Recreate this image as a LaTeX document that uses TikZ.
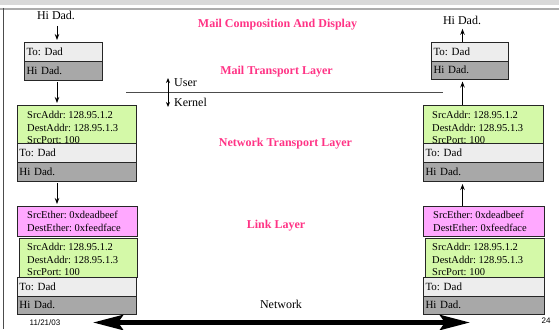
\documentclass[tikz,border=0pt]{standalone}
\usepackage{fontspec}
\setmainfont{Liberation Serif}
\setsansfont{Liberation Sans}
\usetikzlibrary{arrows.meta}
\definecolor{lgreen}{HTML}{D4F9A8}
\definecolor{lpink}{HTML}{FFA8FF}
\definecolor{lgray}{HTML}{EDEDED}
\definecolor{dgray}{HTML}{A8A8A8}
\definecolor{hotpink}{HTML}{FF3385}
\frenchspacing
\begin{document}
\frenchspacing
\begin{tikzpicture}[x=1pt,y=-1pt,
  box/.style={draw=black!85, line width=0.8pt, anchor=north west, inner ysep=0pt, inner xsep=2.5pt, outer sep=0pt, align=left, font=\fontsize{11}{13}\selectfont},
  tobox/.style={box, fill=lgray, minimum height=19pt},
  hibox/.style={box, fill=dgray, minimum height=19pt},
  gbox/.style={box, fill=lgreen},
  pbox/.style={box, fill=lpink},
  addr/.style={anchor=north west, inner sep=0pt, align=left, font=\fontsize{10.5}{12.5}\selectfont},
  big/.style={font=\fontsize{12}{14}\selectfont},
  layer/.style={font=\bfseries\fontsize{12}{14}\selectfont, text=hotpink},
  arr/.style={line width=0.9pt, -{Stealth[length=6pt,width=4.5pt]}},
  bigarr/.style={line width=5pt, {Stealth[length=30pt,width=15pt,inset=5pt]}-{Stealth[length=30pt,width=15pt,inset=5pt]}},
  small/.style={font=\sffamily\fontsize{8}{9}\selectfont}
]
\useasboundingbox (0,0) rectangle (559,329);
% frame decoration
\fill[gray!30] (0,0) rectangle (559,5);
\fill[gray!65] (0,8) rectangle (559,10.5);
\draw[gray!60!black, line width=1.2pt] (3.5,8) -- (3.5,329);

\coordinate (lcol) at (57,0);
\coordinate (rcol) at (462.5,0);

% ---------- left column ----------
\node[big] (lhi) at (56,15) {Hi Dad.};
\node[tobox, minimum width=78pt, text width=73pt] (lto1) at (24,42) {To: Dad};
\node[hibox, minimum width=78pt, text width=73pt] (lhi1) at (24,61) {Hi Dad.};

\node[gbox, minimum width=119pt, minimum height=38pt] (lg1) at (17,105) {};
\node[addr] (lg1t) at (27,111.5) {SrcAddr: 128.95.1.2\\DestAddr: 128.95.1.3\\SrcPort: 100};
\node[tobox, minimum width=119pt, text width=114pt] (lto2) at (17,143) {To: Dad};
\node[hibox, minimum width=119pt, text width=114pt] (lhi2) at (17,162) {Hi Dad.};

\node[pbox, minimum width=120pt, minimum height=30pt] (lp) at (17,206) {};
\node[addr] (lpt) at (27,210.5) {SrcEther: 0xdeadbeef\\[0.5pt]DestEther: 0xfeedface};
\node[gbox, minimum width=118pt, minimum height=39pt] (lg2) at (19,238) {};
\node[addr] (lg2t) at (27,243.5) {SrcAddr: 128.95.1.2\\DestAddr: 128.95.1.3\\SrcPort: 100};
\node[tobox, minimum width=119pt, text width=114pt] (lto3) at (17,277) {To: Dad};
\node[hibox, minimum width=119pt, text width=114pt, minimum height=18pt] (lhi3) at (17,296) {Hi Dad.};

\draw[arr] ([yshift=-3pt]lhi.south -| lcol) -- ([yshift=2pt]lto1.north -| lcol);
\draw[arr] ([yshift=-2pt]lhi1.south -| lcol) -- ([yshift=2pt]lg1.north -| lcol);
\draw[arr] ([yshift=-2pt]lhi2.south -| lcol) -- ([yshift=2pt]lp.north -| lcol);

% ---------- right column ----------
\node[big] (rhi) at (462,20) {Hi Dad.};
\node[tobox, minimum width=77pt, text width=72pt] (rto1) at (431,42) {To: Dad};
\node[hibox, minimum width=77pt, text width=72pt, minimum height=18.5pt] (rhi1) at (431,61) {Hi Dad.};

\node[gbox, minimum width=120pt, minimum height=38pt] (rg1) at (423,105) {};
\node[addr] (rg1t) at (432,111.5) {SrcAddr: 128.95.1.2\\DestAddr: 128.95.1.3\\SrcPort: 100};
\node[tobox, minimum width=120pt, text width=115pt] (rto2) at (423,143) {To: Dad};
\node[hibox, minimum width=120pt, text width=115pt] (rhi2) at (423,162) {Hi Dad.};

\node[pbox, minimum width=121pt, minimum height=30pt] (rp) at (423,206) {};
\node[addr] (rpt) at (433,210.5) {SrcEther: 0xdeadbeef\\[0.5pt]DestEther: 0xfeedface};
\node[gbox, minimum width=119pt, minimum height=39pt] (rg2) at (425,238) {};
\node[addr] (rg2t) at (432,243.5) {SrcAddr: 128.95.1.2\\DestAddr: 128.95.1.3\\SrcPort: 100};
\node[tobox, minimum width=121pt, text width=116pt] (rto3) at (423,277) {To: Dad};
\node[hibox, minimum width=121pt, text width=116pt, minimum height=18pt] (rhi3) at (423,296) {Hi Dad.};

\draw[arr] (rto1.north -| rcol) -- ([yshift=-1pt]rhi.south -| rcol);
\draw[arr] (rg1.north -| rcol) -- ([yshift=-2pt]rhi1.south -| rcol);
\draw[arr] (rp.north -| rcol) -- ([yshift=-3pt]rhi2.south -| rcol);

% ---------- layer labels ----------
\node[layer] (l1) at (277.5,25) {Mail Composition And Display};
\node[layer] (l2) at (276.5,72) {Mail Transport Layer};
\node[layer] (l3) at (285.5,144) {Network Transport Layer};
\node[layer] (l4) at (276,226) {Link Layer};

% user / kernel
\coordinate (ukl) at (126,92.5);
\coordinate (ukr) at (443,92.5);
\draw[gray!60!black, line width=1.2pt] (ukl) -- (ukr);
\coordinate (uktop) at (168,78);
\coordinate (ukbot) at (168,107);
\draw[line width=0.9pt, {Stealth[length=5pt,width=4pt]}-{Stealth[length=5pt,width=4pt]}] (uktop) -- (ukbot);
\node[big, anchor=west, inner sep=0pt] (user) at (174,83) {User};
\node[big, anchor=west, inner sep=0pt] (kernel) at (174,102) {Kernel};

% network
\node[big] (net) at (281,304) {Network};
\coordinate (nl) at (93,322.5);
\coordinate (nr) at (470,322.5);
\draw[bigarr] (nl) -- (nr);

\node[small] (date) at (45,323) {11/21/03};
\node[small] (page) at (546,321) {24};
\end{tikzpicture}
\end{document}
